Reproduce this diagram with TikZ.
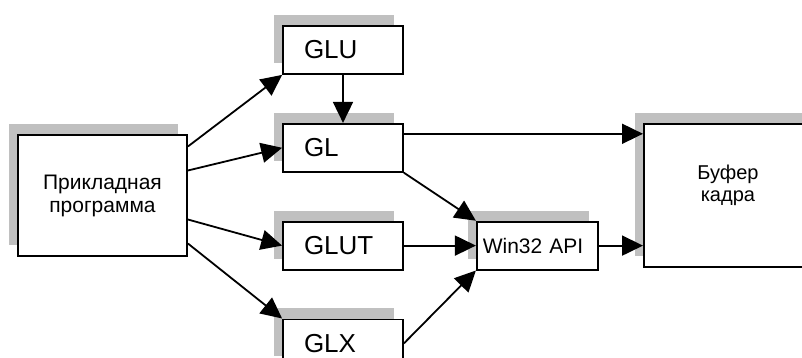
\documentclass[tikz,border=0pt]{standalone}
\usepackage{fontspec}
\setmainfont{Liberation Sans}
\usetikzlibrary{positioning, shadows, arrows.meta}
\definecolor{tenj}{RGB}{192,192,192}
\tikzset{
    blok/.style={draw, line width=1.8pt, fill=white, inner ysep=0pt,
        inner xsep=21pt, text width=78pt, align=left,
        minimum width=120pt, minimum height=48pt,
        font=\fontsize{26}{30}\selectfont,
        general shadow={fill=tenj, shadow xshift=-9pt, shadow yshift=11pt}},
    pil/.style={-{Triangle[length=21pt, width=20pt]}, line width=1.8pt},
}
\begin{document}
\begin{tikzpicture}[x=1pt, y=-1pt]
    \useasboundingbox (0,0) rectangle (802,358);
    \node [blok, minimum width=169pt, minimum height=121pt, inner xsep=0pt,
        text width=169pt, align=center,
        font=\fontsize{21}{23}\selectfont] (app) at (102.5,195.5) {Прикладная\\программа};
    \node [blok] (glu) at (343,50) {GLU};
    \node [blok, below=48pt of glu] (gl) {GL};
    \node [blok, below=48pt of gl] (glut) {GLUT};
    \node [blok, below=48pt of glut] (glx) {GLX};
    \node [blok, right=72pt of glut, minimum width=121pt, inner xsep=6pt,
        text width=109pt, font=\fontsize{21}{25}\selectfont] (win) {Win32 API};
    \node [blok, minimum width=168pt, minimum height=143pt, anchor=north west] (buf) at (643,123) {};
    \node [align=center, font=\fontsize{20}{22}\selectfont] (buftext) at ([yshift=10pt]buf.center) {Буфер\\кадра};

    \draw [pil] ([yshift=49pt]app.east) -- (glu.south west);
    \draw [pil] ([yshift=25pt]app.east) -- (gl.west);
    \draw [pil] ([yshift=-24pt]app.east) -- (glut.west);
    \draw [pil] ([yshift=-48pt]app.east) -- (glx.north west);
    \draw [pil] (glu) -- (gl);
    \draw [pil] ([yshift=14pt]gl.east) -- ([yshift=14pt]gl.east -| buf.west);
    \draw [pil] (gl.south east) -- (win.north west);
    \draw [pil] (glut) -- (win);
    \draw [pil] (glx.east) -- (win.south west);
    \draw [pil] (win.east) -- (win.east -| buf.west);
\end{tikzpicture}
\end{document}
